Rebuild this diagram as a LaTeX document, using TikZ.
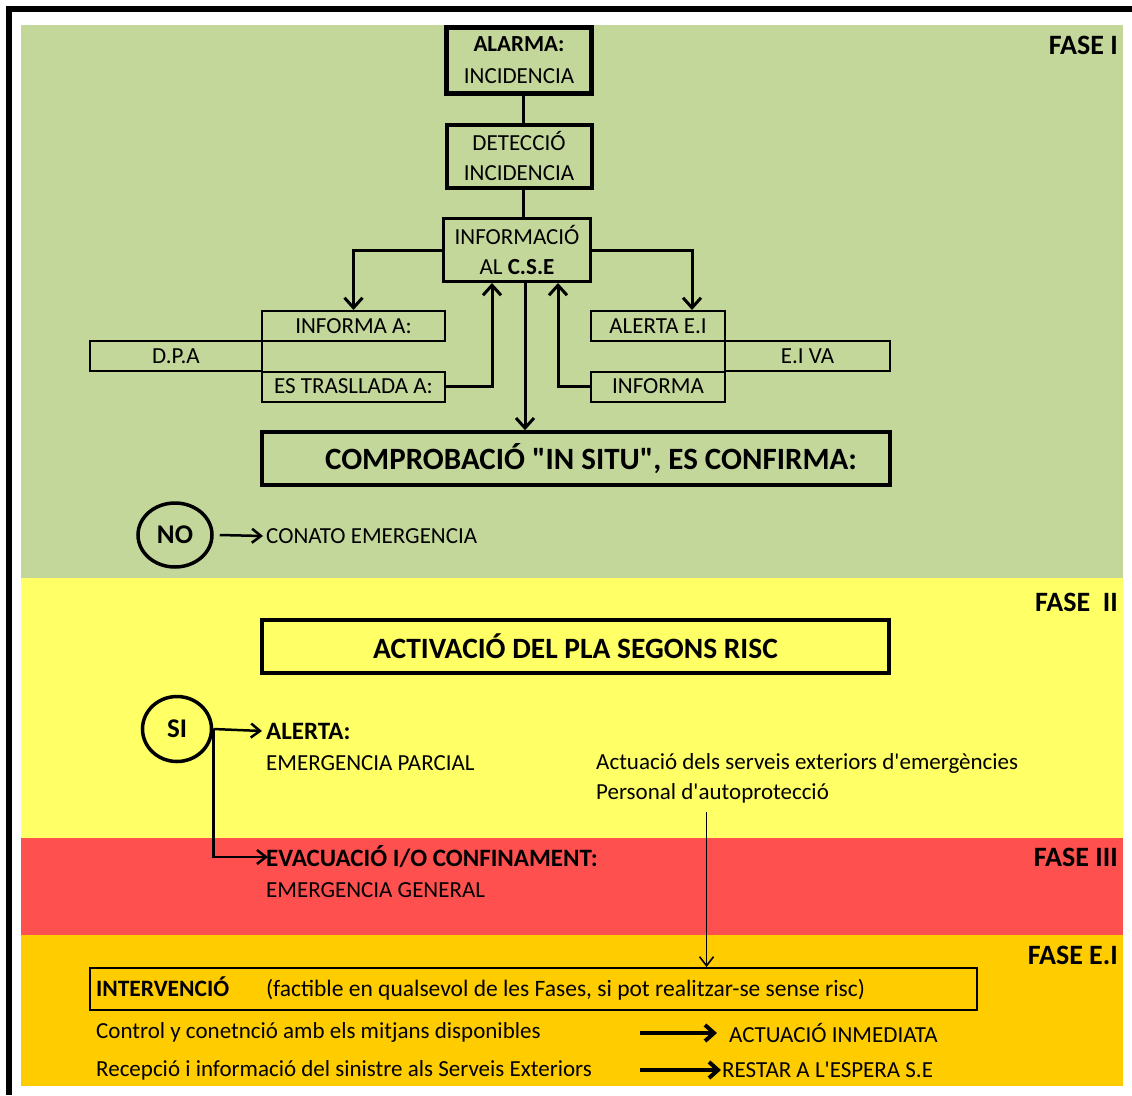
\documentclass[tikz,border=0pt]{standalone}
\usepackage{fontspec}
\setmainfont{Carlito}
\usepackage{tikz}
\usetikzlibrary{arrows.meta,positioning,shapes.geometric}

\definecolor{faseIgreen}{HTML}{C4D79B}
\definecolor{faseIIyellow}{HTML}{FFFF66}
\definecolor{faseIIIred}{HTML}{FF5050}
\definecolor{faseEIgold}{HTML}{FFCC00}

\newcommand{\fsz}[2]{\fontsize{#1}{#2}\selectfont}

\begin{document}
\begin{tikzpicture}[
    x=1pt, y=-1pt,
    box/.style={rectangle, draw=black, inner sep=0pt, align=center,
      font=\fsz{23}{30}},
    cell/.style={rectangle, draw=black, line width=2pt, inner sep=0pt,
      minimum height=30pt, font=\fsz{23}{26}},
    circ/.style={ellipse, draw=black, line width=3.5pt, inner sep=0pt,
      font=\fsz{27}{30}\bfseries},
    txt/.style={anchor=west, inner sep=0pt, font=\fsz{23}{26}},
    btxt/.style={txt, font=\fsz{25}{28}\bfseries},
    fase/.style={anchor=east, inner sep=0pt, font=\fsz{28}{30}\bfseries},
    arr/.style={-{Straight Barb[length=10pt,width=18pt]}, line width=3pt},
    thinarr/.style={-{Straight Barb[length=9pt,width=14pt]}, line width=2.5pt},
    bigarr/.style={-{Straight Barb[length=9pt,width=16pt]}, line width=4pt}
  ]
    \useasboundingbox (0,0) rectangle (1132,1095);

    % ── Phase bands and frame ────────────────────────────────
    \fill[faseIgreen]   (21,25)  rectangle (1123,578);
    \fill[faseIIyellow] (21,578) rectangle (1123,838);
    \fill[faseIIIred]   (21,838) rectangle (1123,935);
    \fill[faseEIgold]   (21,935) rectangle (1123,1086);
    \draw[line width=6pt] (8.5,1095) -- (8.5,9) -- (1132,9);

    \node[fase] (fase1)  at (1118,45)  {FASE I};
    \node[fase] (fase2)  at (1118,602) {FASE\ \ II};
    \node[fase] (fase3)  at (1118,857) {FASE III};
    \node[fase] (faseEI) at (1118,955) {FASE E.I};

    % ── Fase I: main chain ───────────────────────────────────
    \node[box, line width=5pt, minimum width=145pt, minimum height=66pt,
      font=\fsz{23}{32}] (alarma) at (519,60) {\textbf{ALARMA:}\\INCIDENCIA};
    \node[box, line width=4pt, minimum width=145pt, minimum height=63pt]
      (deteccio) at (519,156) {DETECCIÓ\\INCIDENCIA};
    \node[box, line width=3pt, minimum width=147pt, minimum height=63pt]
      (informacio) at (517,250) {INFORMACIÓ\\AL \textbf{C.S.E}};

    \node[cell, minimum width=183pt] (informaA)  at (353.5,326)   {INFORMA A:};
    \node[cell, minimum width=172pt] (dpa)       at (176,356)     {D.P.A};
    \node[cell, minimum width=183pt] (trasllada) at (353.5,386.5) {ES TRASLLADA A:};

    \node[cell, minimum width=134pt] (alertaEI) at (658,326)   {ALERTA E.I};
    \node[cell, minimum width=165pt] (eiva)     at (807.5,356) {E.I VA};
    \node[cell, minimum width=134pt] (informa)  at (658,386.5) {INFORMA};

    \node[box, line width=3.5pt, minimum width=628pt, minimum height=53pt,
      font=\fsz{31}{34}\bfseries] (comprobacio) at (576,458.5)
      {\hspace*{30pt}COMPROBACIÓ \textquotedbl IN SITU\textquotedbl, ES CONFIRMA:};

    \node[circ, minimum width=74pt, minimum height=64pt] (no) at (175,535) {NO};
    \node[txt] (conato) at (266,536) {CONATO EMERGENCIA};

    % ── Fase I: edges ────────────────────────────────────────
    \draw[line width=3pt] ([xshift=4pt]alarma.south) -- ([xshift=4pt]deteccio.north);
    \draw[line width=3pt] ([xshift=4pt]deteccio.south)
      -- ([xshift=4pt]deteccio.south |- informacio.north);
    \draw[arr] (informacio.west) -| (informaA.north);
    \draw[arr] (informacio.east) -| ([xshift=34pt]alertaEI.north);
    \draw[arr] (trasllada.east) -| ([xshift=-25pt]informacio.south);
    \draw[arr] (informa.west) -| ([xshift=41pt]informacio.south);
    \draw[arr] ([xshift=8pt]informacio.south)
      -- ([xshift=8pt]informacio.south |- comprobacio.north);
    \draw[thinarr] ([xshift=6pt]no.east) -- ([xshift=-3pt]conato.west);

    % ── Fase II / III ────────────────────────────────────────
    \node[box, line width=3.5pt, minimum width=627pt, minimum height=53pt,
      font=\fsz{29.5}{32}\bfseries] (activacio) at (575.5,646.5)
      {ACTIVACIÓ DEL PLA SEGONS RISC};

    \node[circ, minimum width=69pt, minimum height=65pt] (si) at (177,729) {SI};
    \node[btxt] (alerta)  at (266,731) {ALERTA:};
    \node[txt] (parcial)  at (266,763) {EMERGENCIA PARCIAL};
    \node[txt] (actuacio) at (596,763)
      {Actuació dels serveis exteriors d\textquotesingle emergències};
    \node[txt] (personal) at (596,793) {Personal d\textquotesingle autoprotecció};

    \node[btxt] (evacuacio) at (266,857) {EVACUACIÓ I/O CONFINAMENT:};
    \node[txt] (general) at (266,890) {EMERGENCIA GENERAL};

    \draw[thinarr] (si.east) -- ([xshift=-4pt]alerta.west);
    \draw[thinarr] (si.east) |- ([xshift=2pt]evacuacio.west);

    % ── Fase E.I ─────────────────────────────────────────────
    \node[box, line width=2pt, minimum width=887pt, minimum height=42pt,
      inner xsep=6pt, font=\fsz{23.5}{26}] (intervencio) at (533.5,989)
      {\makebox[875pt][l]{\makebox[170pt][l]{\textbf{INTERVENCIÓ}}(factible en qualsevol de les Fases, si pot realitzar-se sense risc)}};

    \node[txt] (control)   at (96,1032)  {Control y conetnció amb els mitjans disponibles};
    \node[txt] (inmediata) at (729,1033) {ACTUACIÓ INMEDIATA};
    \node[txt] (recepcio)  at (96,1070)  {Recepció i informació del sinistre als Serveis Exteriors};
    \node[txt] (espera)    at (722,1070) {RESTAR A L\textquotesingle ESPERA S.E};

    \draw[thinarr, line width=1.6pt] ([xshift=-6pt,yshift=-9pt]personal.south)
      -- ([xshift=-6pt]personal.south |- intervencio.north);
    \draw[bigarr] ([xshift=-89pt]inmediata.west) -- ([xshift=-12pt]inmediata.west);
    \draw[bigarr] ([xshift=-82pt]espera.west) -- ([xshift=-1pt]espera.west);
  \end{tikzpicture}
\end{document}
